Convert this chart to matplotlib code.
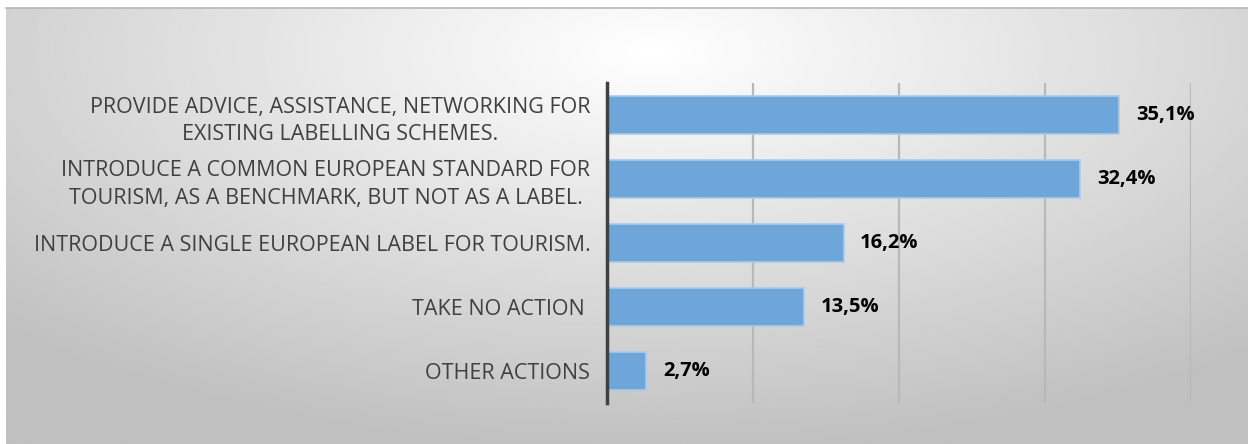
import numpy as np
import matplotlib
matplotlib.use("Agg")
import matplotlib.pyplot as plt

# survey answers, top to bottom
labels = [
    "PROVIDE ADVICE, ASSISTANCE, NETWORKING FOR\nEXISTING LABELLING SCHEMES.",
    "INTRODUCE A COMMON EUROPEAN STANDARD FOR\nTOURISM, AS A BENCHMARK, BUT NOT AS A LABEL.",
    "INTRODUCE A SINGLE EUROPEAN LABEL FOR TOURISM.",
    "TAKE NO ACTION ",
    "OTHER ACTIONS",
]
values = [35.1, 32.4, 16.2, 13.5, 2.7]
value_text = ["35,1%", "32,4%", "16,2%", "13,5%", "2,7%"]
grid_ticks = [10, 20, 30, 40]

W, H = 1248, 444
fig = plt.figure(figsize=(W / 100, H / 100), dpi=100)

# gray radial gradient background
bg = fig.add_axes([6 / W, 0, 1 - 6 / W, (H - 8) / H])
yy, xx = np.mgrid[0:200, 0:600]
cx, cy = 0.52, 0.1
d = np.sqrt(((xx / 600 - cx) / 0.8) ** 2 + ((yy / 200 - cy) / 1.0) ** 2)
shade = np.clip(1.0 - 0.27 * d, 0.75, 1.0)
bg.imshow(shade, cmap="gray", vmin=0, vmax=1, aspect="auto", extent=[0, 1, 1, 0])
bg.set_axis_off()
fig.add_artist(plt.Line2D([6 / W, 1], [(H - 8.5) / H] * 2, color="#b8b8b8", lw=1.2))

ax = fig.add_axes([607 / W, 41 / H, (1191 - 607) / W, (403 - 83) / H])
ax.patch.set_alpha(0)
y = np.arange(len(values))
ax.barh(y, values, height=0.58, color="#6fa6d9", edgecolor="#a9cbeb", linewidth=1.2, zorder=3)
ax.set_xlim(0, 40)
ax.set_ylim(len(values) - 0.5, -0.5)

for xv in grid_ticks:
    ax.axvline(xv, color="#b8b8b8", lw=1.6, zorder=1)

for yi, v, t in zip(y, values, value_text):
    ax.annotate(t, (v, yi), xytext=(12, 0), textcoords="offset points",
                va="center", ha="left", fontsize=14.5, fontweight="bold",
                family="Open Sans", color="black")

ax.set_yticks(y)
ax.set_yticklabels(labels, family="Open Sans", fontsize=15.5, color="#404040",
                   multialignment="center", linespacing=1.4)
ax.tick_params(axis="y", length=0, pad=12)
ax.set_xticks([])
for s in ["top", "right", "bottom"]:
    ax.spines[s].set_visible(False)
ax.spines["left"].set_color("#404040")
ax.spines["left"].set_linewidth(2.5)
ax.spines["left"].set_zorder(4)

fig.savefig("out.png", dpi=100)
